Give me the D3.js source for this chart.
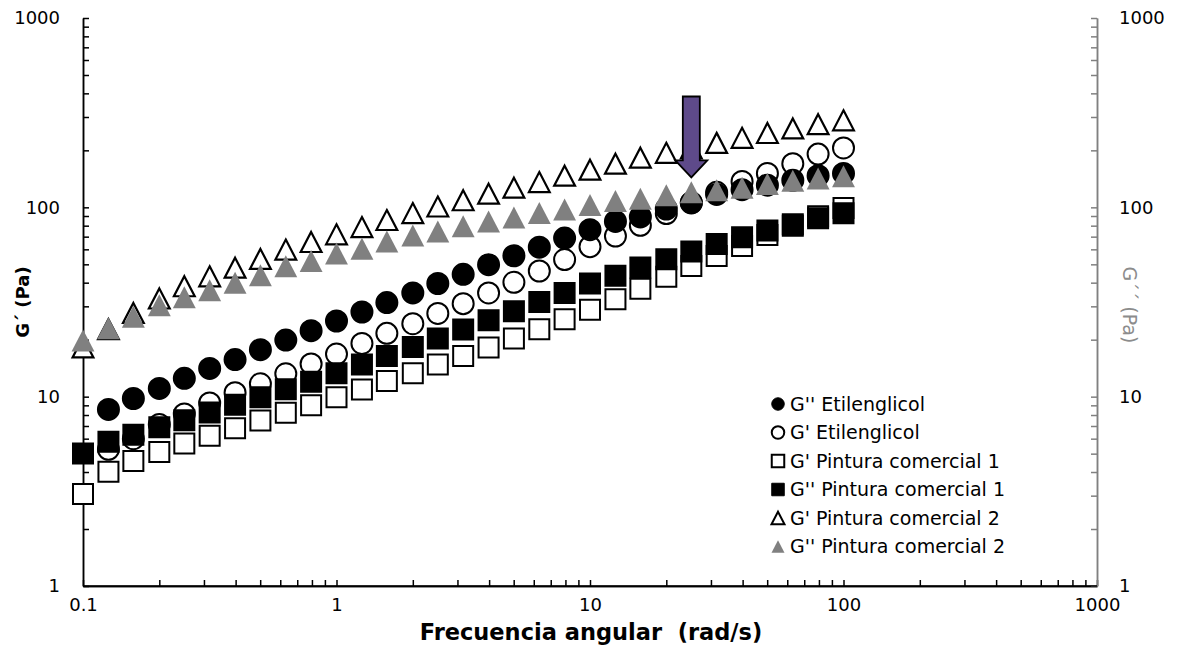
<!DOCTYPE html>
<html>
<head>
<meta charset="utf-8">
<script src="https://cdn.jsdelivr.net/npm/d3@7"></script>
<style>
  html, body { margin: 0; padding: 0; background: #fff; }
  svg { display: block; }
  text { font-family: "DejaVu Sans", sans-serif; }
</style>
</head>
<body>
<svg id="chart" width="1182" height="657"></svg>
<script>
// ---------- data ----------
const frequency = [0.1, 0.126, 0.158, 0.2, 0.251, 0.316, 0.398, 0.501, 0.631, 0.794,
  1, 1.26, 1.58, 2, 2.51, 3.16, 3.98, 5.01, 6.31, 7.94,
  10, 12.6, 15.8, 20, 25.1, 31.6, 39.8, 50.1, 63.1, 79.4, 100];

const gppEtilenglicol = [null, 8.56, 9.78, 11.05, 12.5, 14.1, 15.7, 17.7, 19.9, 22.3,
  25.1, 28.0, 31.4, 35.3, 39.6, 44.3, 49.8, 55.5, 61.6, 68.8,
  76.2, 84.2, 89, 98, 105.5, 117, 124, 131, 139, 147, 151];

const gpEtilenglicol = [null, 5.27, 6.0, 7.13, 8.1, 9.27, 10.5, 11.7, 13.2, 14.9,
  16.8, 19.1, 21.6, 24.3, 27.5, 31.0, 35.3, 40.2, 46.1, 53.0,
  62, 70.5, 80.4, 92.7, 106, 120, 137, 151, 170, 191, 206];

const gpPintura1 = [3.06, 4.01, 4.57, 5.1, 5.66, 6.21, 6.82, 7.49, 8.22, 9.02,
  9.94, 10.9, 12.1, 13.3, 14.8, 16.4, 18.2, 20.3, 22.7, 25.6,
  28.8, 32.7, 37.2, 43, 49, 55.3, 62.5, 71.4, 80, 89.7, 99.3];

const gppPintura1 = [5.01, 5.78, 6.29, 6.9, 7.5, 8.25, 9.05, 9.94, 10.96, 12.0,
  13.3, 14.8, 16.4, 18.3, 20.3, 22.6, 25.3, 28.3, 31.6, 35.3,
  39.6, 43.5, 48.1, 53.2, 58.4, 64, 69.5, 75.4, 81.3, 87.5, 93];

const gpPintura2 = [18.2, 22.7, 27.7, 33, 38.3, 43.2, 48, 53.4, 59.8, 65.6,
  72, 78.7, 85.7, 93.3, 101, 109, 118, 127, 136, 147,
  158, 170, 183, 194, 205, 219, 233, 247, 261, 275, 288];

const gppPintura2 = [19.8, 23.0, 26.4, 30.4, 33.5, 36.5, 40, 43.8, 48.8, 52,
  57, 60.5, 65.9, 71, 74.5, 79.4, 84.1, 88.3, 93.3, 97.3,
  103, 108, 111, 116, 120, 123, 127, 133, 138, 142, 146];

const xTickValues = [0.1, 1, 10, 100, 1000];
const xTickLabels = ["0.1", "1", "10", "100", "1000"];
const yTickValues = [1, 10, 100, 1000];
const yTickLabels = ["1", "10", "100", "1000"];

const legendLabels = ["G'' Etilenglicol", "G' Etilenglicol", "G' Pintura comercial 1",
  "G'' Pintura comercial 1", "G' Pintura comercial 2", "G'' Pintura comercial 2"];

const xTitle = "Frecuencia angular  (rad/s)";
const yTitleLeft = "G\u00B4 (Pa)";
const yTitleRight = "G\u00B4\u00B4 (Pa)";

// arrow annotation (data coordinates)
const arrowX = 25.1, arrowTop = 385, arrowTip = 144;

// ---------- styling / layout ----------
const plot = { left: 83, right: 1097, top: 18, bottom: 586 };

const svg = d3.select("#chart");
const x = d3.scaleLog().domain([0.1, 1000]).range([plot.left, plot.right]);
const y = d3.scaleLog().domain([1, 1000]).range([plot.bottom, plot.top]);

const minorX = [], minorY = [];
[0.1, 1, 10, 100].forEach(d => { for (let k = 2; k <= 9; k++) minorX.push(d * k); });
[1, 10, 100].forEach(d => { for (let k = 2; k <= 9; k++) minorY.push(d * k); });

const tickLen = 6;
const tickFont = 18;

// bottom axis
const gx = svg.append("g").attr("transform", `translate(0,${plot.bottom})`);
gx.call(d3.axisBottom(x).tickValues(minorX).tickSize(-tickLen).tickSizeOuter(0).tickFormat(""));
gx.append("g").call(d3.axisBottom(x).tickValues(xTickValues).tickSize(-tickLen).tickSizeOuter(0)
  .tickPadding(12).tickFormat((d, i) => xTickLabels[i]));
gx.selectAll("path.domain, line").attr("stroke", "#000").attr("stroke-width", 1.5);
gx.selectAll("text").attr("font-size", tickFont).attr("fill", "#000").attr("font-family", "DejaVu Sans");

// left axis
const gyl = svg.append("g").attr("transform", `translate(${plot.left},0)`);
gyl.call(d3.axisLeft(y).tickValues(minorY).tickSize(-tickLen).tickSizeOuter(0).tickFormat(""));
gyl.append("g").call(d3.axisLeft(y).tickValues(yTickValues).tickSize(-tickLen).tickSizeOuter(0)
  .tickPadding(23).tickFormat((d, i) => yTickLabels[i]));
gyl.selectAll("path.domain, line").attr("stroke", "#000").attr("stroke-width", 1.5);
gyl.selectAll("text").attr("font-size", tickFont).attr("fill", "#000").attr("font-family", "DejaVu Sans");

// right axis (gray)
const gyr = svg.append("g").attr("transform", `translate(${plot.right},0)`);
gyr.call(d3.axisRight(y).tickValues(minorY).tickSize(-tickLen).tickSizeOuter(0).tickFormat(""));
gyr.append("g").call(d3.axisRight(y).tickValues(yTickValues).tickSize(-tickLen).tickSizeOuter(0)
  .tickPadding(22).tickFormat((d, i) => yTickLabels[i]));
gyr.selectAll("path.domain, line").attr("stroke", "#808080").attr("stroke-width", 1.5);
gyr.selectAll("text").attr("font-size", tickFont).attr("fill", "#000").attr("font-family", "DejaVu Sans");

// redraw the bottom axis line on top of the right axis corner
svg.append("line").attr("x1", plot.left).attr("x2", plot.right)
  .attr("y1", plot.bottom).attr("y2", plot.bottom).attr("stroke", "#000").attr("stroke-width", 1.5);

// titles
svg.append("text").attr("x", (plot.left + plot.right) / 2 + 1).attr("y", 640)
  .attr("text-anchor", "middle").attr("font-weight", "bold").attr("font-size", 22.5)
  .style("white-space", "pre").text(xTitle);
svg.append("text").attr("transform", `translate(29,302) rotate(-90)`)
  .attr("text-anchor", "middle").attr("font-weight", "bold").attr("font-size", 18)
  .text(yTitleLeft);
svg.append("text").attr("transform", `translate(1123,305) rotate(90)`)
  .attr("text-anchor", "middle").attr("font-size", 19).attr("fill", "#8c8c8c")
  .attr("font-family", "Liberation Sans, Arial, sans-serif")
  .text(yTitleRight);

// ---------- markers ----------
function markerPath(shape, s) {
  const h = s / 2;
  if (shape === "circle") return d3.arc()({ innerRadius: 0, outerRadius: h, startAngle: 0, endAngle: 2 * Math.PI });
  if (shape === "square") return `M${-h},${-h}H${h}V${h}H${-h}Z`;
  // triangle, bbox centered
  const w = s * 1.04;
  return `M0,${-h}L${w / 2},${h}L${-w / 2},${h}Z`;
}

const series = [
  { values: gpEtilenglicol, shape: "circle", fill: "#fff", stroke: "#000", size: 21, sw: 2 },
  { values: gppEtilenglicol, shape: "circle", fill: "#000", stroke: "#000", size: 21, sw: 2 },
  { values: gpPintura1, shape: "square", fill: "#fff", stroke: "#000", size: 20, sw: 2 },
  { values: gppPintura1, shape: "square", fill: "#000", stroke: "#000", size: 20, sw: 2 },
  { values: gpPintura2, shape: "triangle", fill: "#fff", stroke: "#000", size: 20, sw: 2.2 },
  { values: gppPintura2, shape: "triangle", fill: "#808080", stroke: "none", size: 22, sw: 0 }
];

series.forEach(s => {
  const pts = frequency.map((f, i) => ({ f, v: s.values[i] })).filter(d => d.v != null);
  svg.append("g").selectAll("path").data(pts).join("path")
    .attr("transform", d => `translate(${x(d.f)},${y(d.v)})`)
    .attr("d", markerPath(s.shape, s.size))
    .attr("fill", s.fill).attr("stroke", s.stroke).attr("stroke-width", s.sw);
});

// ---------- arrow ----------
{
  const cx = x(arrowX), top = y(arrowTop), tip = y(arrowTip);
  const sh = 8.5, hh = 16, hl = 17;
  const pts = [[cx - sh, top], [cx + sh, top], [cx + sh, tip - hl], [cx + hh, tip - hl],
               [cx, tip], [cx - hh, tip - hl], [cx - sh, tip - hl]];
  svg.append("path").attr("d", d3.line()(pts) + "Z")
    .attr("fill", "#5e4a8a").attr("stroke", "#000").attr("stroke-width", 1.8)
    .attr("stroke-linejoin", "miter");
}

// ---------- legend ----------
const legendStyles = [
  { shape: "circle", fill: "#000", stroke: "#000", sw: 1 },
  { shape: "circle", fill: "#fff", stroke: "#000", sw: 2 },
  { shape: "square", fill: "#fff", stroke: "#000", sw: 2 },
  { shape: "square", fill: "#000", stroke: "#000", sw: 1 },
  { shape: "triangle", fill: "#fff", stroke: "#000", sw: 2 },
  { shape: "triangle", fill: "#808080", stroke: "none", sw: 0 }
];
const lg = svg.append("g");
legendLabels.forEach((label, i) => {
  const d = legendStyles[i];
  const cy = 404 + i * 28.5;
  lg.append("path").attr("transform", `translate(778,${cy})`)
    .attr("d", markerPath(d.shape, 12.5))
    .attr("fill", d.fill).attr("stroke", d.stroke).attr("stroke-width", d.sw);
  lg.append("text").attr("x", 790).attr("y", cy).attr("dy", "0.36em")
    .attr("font-size", 19).attr("fill", "#000").text(label);
});
</script>
</body>
</html>
